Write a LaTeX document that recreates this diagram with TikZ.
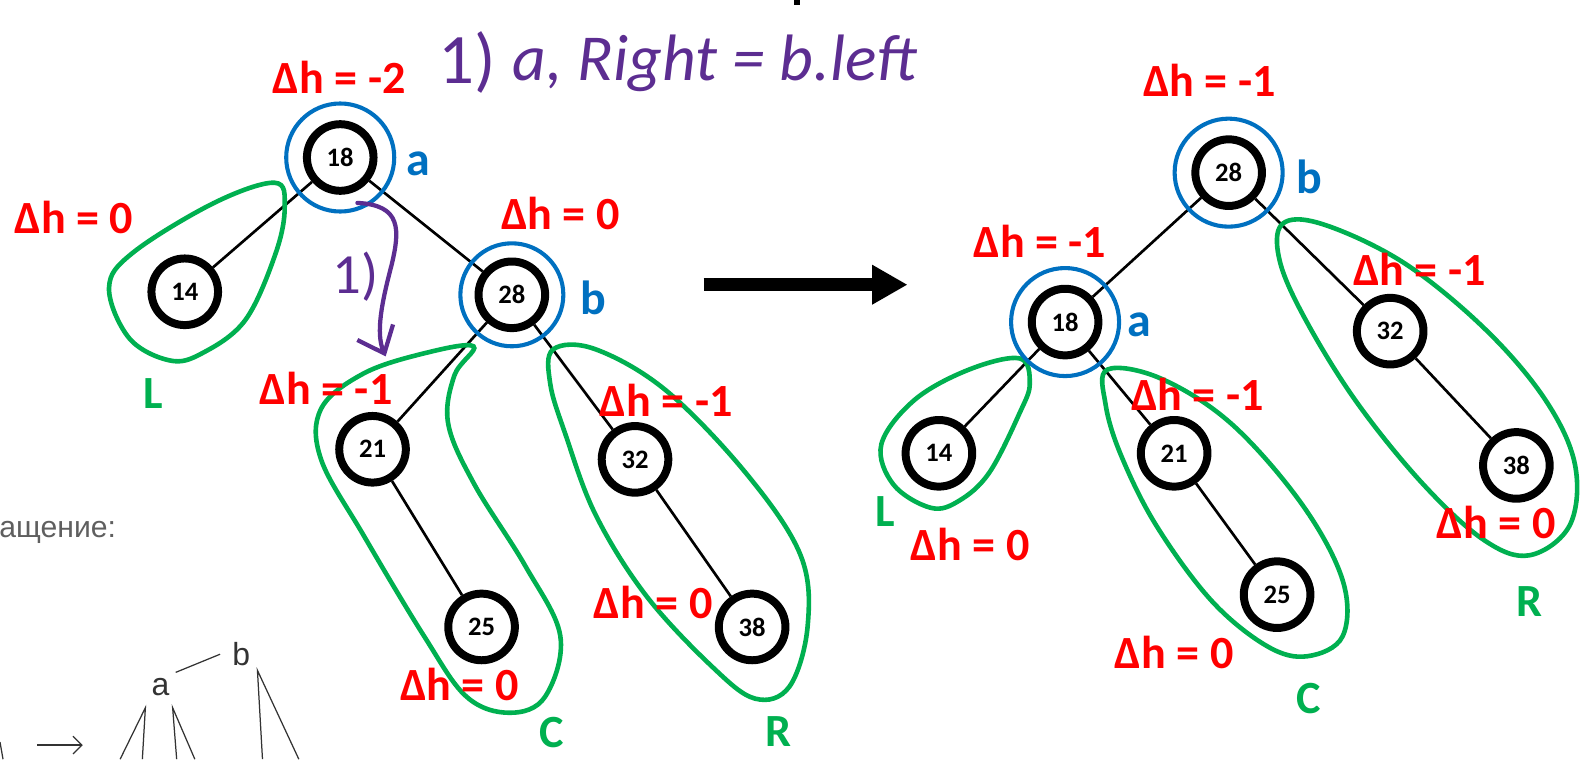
\documentclass[tikz,border=0pt]{standalone}
\usepackage{fontspec}
\setmainfont{Carlito}
\newfontfamily\arialfont{Liberation Sans}
\usetikzlibrary{arrows.meta}

\definecolor{dhred}{RGB}{255,0,0}
\definecolor{ringblue}{RGB}{0,112,192}
\definecolor{grpgreen}{RGB}{0,176,80}
\definecolor{penpurple}{RGB}{92,45,145}
\definecolor{webgray}{RGB}{95,95,95}

\tikzset{
  tnode/.style={circle, draw, fill=white, line width=4.5pt, minimum size=1.32cm,
    inner sep=0pt, font=\bfseries\fontsize{15}{15}\selectfont},
  tedge/.style={line width=1.5pt},
  dh/.style={text=dhred, inner sep=0pt, font=\bfseries\fontsize{26}{26}\selectfont},
  nm/.style={text=ringblue, inner sep=0pt, font=\bfseries\fontsize{27}{27}\selectfont},
  grp/.style={text=grpgreen, inner sep=0pt, font=\bfseries\fontsize{26}{26}\selectfont},
  ring/.style={draw=ringblue, line width=2.3pt},
  grploop/.style={draw=grpgreen, line width=2.6pt},
  pen/.style={draw=penpurple, line width=2.4pt, line cap=round, line join=round},
  pentext/.style={text=penpurple, inner sep=0pt, font=\itshape\fontsize{37}{37}\selectfont},
  sketch/.style={draw=black!80, line width=0.7pt},
}

\begin{document}
\begin{tikzpicture}[x=0.02cm, y=-0.02cm]
\useasboundingbox (0,0) rectangle (1568,752);

% bits of the page behind
\fill (786,0) rectangle (792,5);
\node[text=webgray, anchor=west, inner sep=0pt, font=\arialfont\fontsize{17}{17}\selectfont] (rot) at (-1,527) {ащение:};
\node[inner sep=0pt, font=\arialfont\fontsize{18}{18}\selectfont, text=black!80] (ska) at (159,681) {a};
\node[inner sep=0pt, font=\arialfont\fontsize{18}{18}\selectfont, text=black!80] (skb) at (239,648) {b};
\draw[sketch] (174,666) -- (218,648);
\draw[sketch] (119,752) -- (144,701) -- (141,752);
\draw[sketch] (175,752) -- (171,701) -- (193,752);
\draw[sketch] (260,752) -- (255,664) -- (296,752);
\draw[sketch] (0,735) -- (3,752);
\draw[sketch, -{Straight Barb[length=5pt, width=10pt]}] (37,738) -- (82,738);

% tree before
\node[tnode] (l18) at (337,156) {18};
\node[tnode] (l14) at (183,289) {14};
\node[tnode] (l28) at (507,292) {28};
\node[tnode] (l21) at (369,445) {21};
\node[tnode] (l25) at (477,621) {25};
\node[tnode] (l32) at (629,455) {32};
\node[tnode] (l38) at (745,621) {38};
\draw[tedge] (l18) -- (l14);
\draw[tedge] (l18) -- (l28);
\draw[tedge] (l28) -- (l21);
\draw[tedge] (l28) -- (l32);
\draw[tedge] (l21) -- (l25);
\draw[tedge] (l32) -- (l38);

% groups L, C, R
\draw[grploop] plot[smooth cycle, tension=0.6] coordinates {(272,181) (282,205) (273,251) (243,317) (200,350) (168,357) (128,335) (108,285) (132,250) (212,201)};
\draw[grploop] plot[smooth cycle, tension=0.6] coordinates {(469,343) (450,372) (444,420) (470,480) (520,560) (555,630) (540,690) (505,706) (462,690) (420,630) (360,530) (318,455) (318,405) (360,370) (420,350)};
\draw[grploop] plot[smooth cycle, tension=0.6] coordinates {(548,346) (590,346) (660,387) (740,470) (793,550) (800,620) (782,680) (748,692) (705,660) (640,590) (590,510) (560,430) (545,380)};

\draw[ring] (l18) circle[radius=53.5];
\draw[ring] (l28) circle[radius=51];

% rotation arrow
\draw[line width=7.3pt, -{Triangle[length=20pt, width=21pt]}] (697,282) coordinate (mvA) -- (899,282) coordinate (mvB);

% tree after
\node[tnode] (r28) at (1217,171) {28};
\node[tnode] (r18) at (1055,319) {18};
\node[tnode] (r14) at (930,449) {14};
\node[tnode] (r21) at (1163,449) {21};
\node[tnode] (r25) at (1265,589) {25};
\node[tnode] (r32) at (1377,328) {32};
\node[tnode] (r38) at (1502,461) {38};
\draw[tedge] (r28) -- (r18);
\draw[tedge] (r28) -- (r32);
\draw[tedge] (r18) -- (r14);
\draw[tedge] (r18) -- (r21);
\draw[tedge] (r21) -- (r25);
\draw[tedge] (r32) -- (r38);

\draw[grploop] plot[smooth cycle, tension=0.6] coordinates {(1010,355) (1020,380) (1010,409) (980,468) (950,496) (922,503) (885,480) (873,440) (906,396) (960,366)};
\draw[grploop] plot[smooth cycle, tension=0.6] coordinates {(1097,366) (1150,375) (1220,420) (1290,500) (1330,575) (1330,630) (1295,650) (1255,640) (1200,595) (1145,520) (1110,450) (1095,400)};
\draw[grploop] plot[smooth cycle, tension=0.6] coordinates {(1270,222) (1310,222) (1390,260) (1470,325) (1530,395) (1560,460) (1555,520) (1515,550) (1470,535) (1410,480) (1345,400) (1295,320) (1268,260)};

\draw[ring] (r28) circle[radius=53.5];
\draw[ring] (r18) circle[radius=53.5];

% balance labels
\node[dh] (dl18) at (336,77) {Δh = -2};
\node[dh] (dl14) at (73,215) {Δh = 0};
\node[dh] (dl28) at (555,211) {Δh = 0};
\node[dh] (dl21) at (323,385) {Δh = -1};
\node[dh] (dl32) at (660,397) {Δh = -1};
\node[dh] (dl38) at (647,597) {Δh = 0};
\node[dh] (dl25) at (455,678) {Δh = 0};
\node[dh] (dr28) at (1198,80) {Δh = -1};
\node[dh] (dr18) at (1030,239) {Δh = -1};
\node[dh] (dr32) at (1406,267) {Δh = -1};
\node[dh] (dr21) at (1186,391) {Δh = -1};
\node[dh] (dr14) at (961,539) {Δh = 0};
\node[dh] (dr38) at (1482,518) {Δh = 0};
\node[dh] (dr25) at (1163,646) {Δh = 0};

\node[nm] (al) at (414,162) {a};
\node[nm] (bl) at (588,295) {b};
\node[nm] (br) at (1297,175) {b};
\node[nm] (ar) at (1129,322) {a};

\node[grp] (gLl) at (152,390) {L};
\node[grp] (gCl) at (546,726) {C};
\node[grp] (gRl) at (771,725) {R};
\node[grp] (gLr) at (877,507) {L};
\node[grp] (gCr) at (1296,692) {C};
\node[grp] (gRr) at (1515,596) {R};

% handwritten note
\node[pentext, font=\fontsize{40}{40}\selectfont] (n1) at (463,62) {1)};
\node[pentext, anchor=base] (note) at (708,80) {a, Right = b.left};
\coordinate (pa1) at (354,201);
\coordinate (pa2) at (382,353);
\draw[pen, -{Straight Barb[length=13pt, width=22pt]}] (pa1) .. controls (398,203) and (396,228) .. (388,262) .. controls (378,300) and (372,330) .. (pa2);
\node[pentext, font=\fontsize{32}{32}\selectfont] (n2) at (352,274) {1)};
\end{tikzpicture}
\end{document}
